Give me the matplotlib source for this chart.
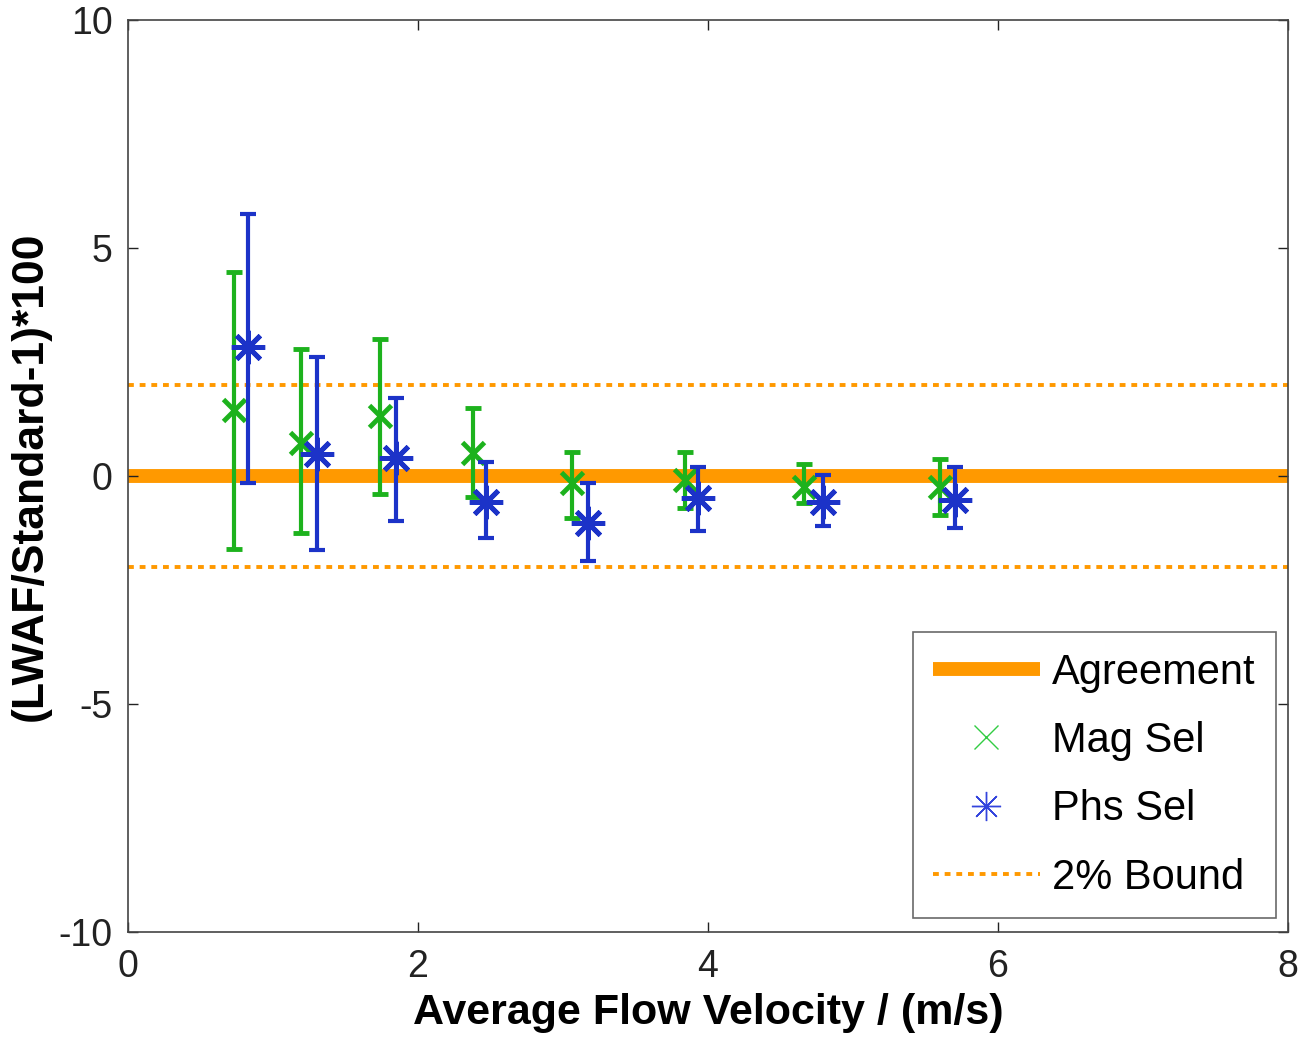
import matplotlib
matplotlib.use("Agg")
import matplotlib.pyplot as plt
from matplotlib.lines import Line2D
import numpy as np

plt.rcParams['font.family'] = ['Liberation Sans', 'DejaVu Sans']
plt.rcParams['axes.unicode_minus'] = False

# Mag Sel (green x)
mag_x = [0.73, 1.19, 1.74, 2.38, 3.06, 3.84, 4.66, 5.60]
mag_y = [1.45, 0.72, 1.32, 0.50, -0.15, -0.09, -0.24, -0.24]
mag_lo = [-1.60, -1.25, -0.39, -0.46, -0.92, -0.70, -0.59, -0.86]
mag_hi = [4.47, 2.78, 3.00, 1.49, 0.53, 0.53, 0.26, 0.37]

# Phs Sel (blue asterisk)
phs_x = [0.83, 1.30, 1.85, 2.47, 3.17, 3.93, 4.79, 5.70]
phs_y = [2.83, 0.48, 0.39, -0.57, -1.03, -0.49, -0.56, -0.53]
phs_lo = [-0.16, -1.62, -0.99, -1.36, -1.86, -1.20, -1.10, -1.15]
phs_hi = [5.75, 2.61, 1.71, 0.31, -0.15, 0.20, 0.02, 0.20]

bound = 2.0
x_range = [0, 8]

orange = '#ff9900'
green = '#1db21d'
blue = '#1c33c8'

fig = plt.figure(figsize=(13, 10.38), dpi=100)
ax = fig.add_axes([0.0985, 0.1021, 0.8923, 0.8786])

ax.plot(x_range, [0, 0], color=orange, lw=10, solid_capstyle='butt', zorder=1)
ax.plot(x_range, [bound, bound], color=orange, lw=2.8, ls=(0, (1.5, 1.5)), zorder=1)
ax.plot(x_range, [-bound, -bound], color=orange, lw=2.8, ls=(0, (1.5, 1.5)), zorder=1)

mag_y = np.array(mag_y)
phs_y = np.array(phs_y)
mag_err = [mag_y - np.array(mag_lo), np.array(mag_hi) - mag_y]
phs_err = [phs_y - np.array(phs_lo), np.array(phs_hi) - phs_y]

ax.errorbar(mag_x, mag_y, yerr=mag_err, fmt='x', color=green, ms=16, mew=3.5,
            elinewidth=3, capsize=5.5, capthick=3, zorder=3)
ax.errorbar(phs_x, phs_y, yerr=phs_err, fmt='none', ecolor=blue,
            elinewidth=3, capsize=5.5, capthick=3, zorder=4)
ax.plot(phs_x, phs_y, ls='none', marker=(8, 2, 0), ms=24, mew=3.5,
        color=blue, zorder=5)

ax.set_xlim(0, 8)
ax.set_ylim(-10, 10)
ax.set_xticks([0, 2, 4, 6, 8])
ax.set_yticks([-10, -5, 0, 5, 10])
ax.tick_params(direction='in', length=7, width=1, top=True, right=True,
               labelsize=27, colors='#222222')
ax.tick_params(axis='x', pad=12)
ax.tick_params(axis='y', pad=11)
for s in ax.spines.values():
    s.set_color('#444444')
    s.set_linewidth(1.2)

ax.set_xlabel('Average Flow Velocity / (m/s)', fontsize=31, fontweight='bold', labelpad=6)
ax.set_ylabel('(LWAF/Standard-1)*100', fontsize=32, fontweight='bold', labelpad=6)

handles = [
    Line2D([], [], color=orange, lw=10, solid_capstyle='butt'),
    Line2D([], [], ls='none', marker='x', color='#33cc44', ms=17, mew=1),
    Line2D([], [], ls='none', marker=(8, 2, 0), color='#3344dd', ms=21, mew=1),
    Line2D([], [], color=orange, lw=2.8, ls=(0, (1.5, 1.5))),
]
labels = ['Agreement', 'Mag Sel', 'Phs Sel', '2% Bound']
leg = ax.legend(handles, labels, loc='lower right', bbox_to_anchor=(0.99, 0.015),
                fontsize=30, frameon=True, fancybox=False, handlelength=2.55,
                labelspacing=0.68, borderpad=0.5, handletextpad=0.3,
                borderaxespad=0)
leg.get_frame().set_edgecolor('#444444')
leg.get_frame().set_linewidth(1.2)

fig.savefig('out.png', dpi=100)
